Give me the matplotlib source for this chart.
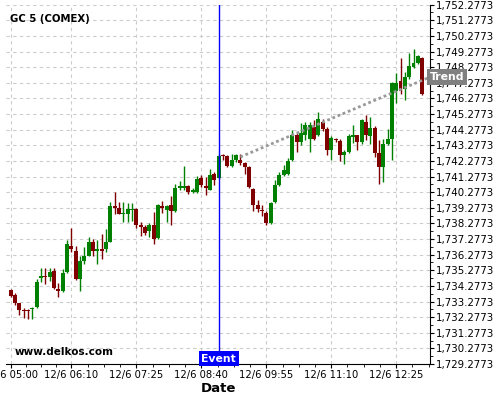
import numpy as np
import matplotlib
matplotlib.use('Agg')
import matplotlib.pyplot as plt
from matplotlib.ticker import FixedLocator, MultipleLocator, FuncFormatter

# ===== DATI (candele 5 minuti) =====
opens = [1734.04, 1733.72, 1733.16, 1732.76, 1732.76, 1732.80, 1732.91, 1734.79, 1734.94, 1734.83,
         1735.20, 1734.11, 1733.93, 1735.15, 1736.80, 1736.54, 1734.75, 1735.84, 1736.22, 1737.06,
         1736.54, 1736.65, 1736.65, 1737.08, 1739.37, 1739.24, 1738.85, 1738.90, 1739.15, 1739.22,
         1738.15, 1738.04, 1737.78, 1738.15, 1737.36, 1739.37, 1739.11, 1739.43, 1739.07, 1740.54,
         1740.54, 1740.65, 1740.28, 1740.28, 1741.18, 1740.65, 1740.44, 1741.46, 1741.18, 1742.64,
         1742.57, 1741.95, 1742.32, 1742.32, 1742.14, 1741.89, 1740.50, 1739.43, 1739.11, 1738.94,
         1738.32, 1739.64, 1740.71, 1741.35, 1741.42, 1742.32, 1743.92, 1743.49, 1743.92, 1743.71,
         1744.45, 1743.92, 1744.77, 1744.29, 1743.00, 1743.65, 1743.55, 1742.64, 1742.85, 1743.81,
         1743.92, 1743.49, 1744.77, 1743.86, 1744.41, 1742.79, 1741.89, 1743.34, 1743.71, 1746.76,
         1747.40, 1746.85, 1747.62, 1748.30, 1748.56, 1748.84]
highs = [1734.11, 1733.85, 1733.21, 1732.83, 1732.80, 1732.90, 1734.73, 1735.44, 1735.44, 1735.44,
         1735.44, 1734.45, 1735.33, 1737.19, 1737.97, 1736.80, 1736.22, 1736.76, 1737.40, 1737.29,
         1737.19, 1737.61, 1737.94, 1739.62, 1740.28, 1739.64, 1739.64, 1739.58, 1739.58, 1739.28,
         1738.36, 1738.15, 1738.28, 1739.00, 1739.50, 1739.71, 1739.45, 1740.01, 1740.82, 1740.99,
         1741.93, 1740.71, 1740.52, 1741.29, 1741.35, 1741.25, 1741.78, 1741.57, 1742.70, 1742.75,
         1742.64, 1742.75, 1742.75, 1742.70, 1742.21, 1741.95, 1740.56, 1739.75, 1739.43, 1739.05,
         1739.64, 1741.03, 1741.57, 1741.99, 1742.45, 1744.24, 1744.07, 1744.71, 1744.77, 1744.75,
         1744.88, 1745.40, 1744.95, 1744.43, 1743.86, 1743.75, 1743.65, 1743.00, 1743.99, 1744.56,
         1743.95, 1744.99, 1745.20, 1745.06, 1744.50, 1743.60, 1743.71, 1744.35, 1747.35, 1747.92,
         1748.84, 1747.96, 1749.20, 1749.42, 1749.05, 1748.90]
lows = [1733.59, 1733.08, 1732.44, 1732.23, 1732.18, 1732.18, 1732.85, 1734.51, 1734.41, 1734.62,
        1734.09, 1733.55, 1733.91, 1735.10, 1736.44, 1734.67, 1733.98, 1735.69, 1736.18, 1736.22,
        1735.69, 1736.01, 1736.44, 1737.06, 1738.90, 1738.85, 1738.36, 1738.36, 1738.42, 1738.00,
        1737.44, 1737.51, 1737.40, 1736.97, 1737.25, 1738.94, 1738.36, 1738.15, 1739.00, 1740.39,
        1740.39, 1740.14, 1740.20, 1740.20, 1740.60, 1740.07, 1740.40, 1740.71, 1741.10, 1742.32,
        1741.87, 1741.87, 1742.21, 1742.04, 1741.46, 1740.52, 1739.06, 1739.00, 1738.72, 1738.15,
        1738.25, 1739.60, 1740.65, 1741.30, 1741.35, 1742.25, 1742.85, 1743.28, 1743.60, 1742.85,
        1743.60, 1743.86, 1744.20, 1742.64, 1742.32, 1743.47, 1742.27, 1742.10, 1742.80, 1743.40,
        1743.00, 1743.39, 1743.60, 1743.39, 1742.53, 1740.82, 1740.92, 1743.28, 1742.32, 1745.99,
        1746.55, 1746.17, 1747.55, 1748.20, 1748.50, 1746.49]
closes = [1733.61, 1733.16, 1732.74, 1732.70, 1732.70, 1732.87, 1734.51, 1734.94, 1734.83, 1735.15,
          1734.15, 1733.93, 1735.13, 1736.93, 1736.63, 1734.73, 1735.84, 1736.22, 1737.06, 1736.54,
          1736.65, 1736.54, 1737.08, 1739.37, 1739.24, 1738.90, 1738.94, 1739.22, 1739.22, 1738.15,
          1738.04, 1737.65, 1738.15, 1737.25, 1739.43, 1739.28, 1739.37, 1739.07, 1740.54, 1740.65,
          1740.65, 1740.28, 1740.44, 1741.14, 1740.71, 1740.54, 1741.35, 1741.08, 1742.57, 1742.57,
          1741.95, 1742.32, 1742.64, 1742.14, 1741.89, 1740.60, 1739.43, 1739.22, 1739.05, 1738.32,
          1739.58, 1740.71, 1741.35, 1741.72, 1742.25, 1743.92, 1743.49, 1744.07, 1744.56, 1744.56,
          1743.71, 1744.93, 1744.29, 1743.00, 1743.75, 1743.60, 1742.64, 1742.85, 1743.86, 1743.92,
          1743.49, 1744.88, 1743.92, 1744.41, 1742.79, 1741.89, 1743.34, 1743.71, 1747.28, 1747.28,
          1746.76, 1747.62, 1748.35, 1748.56, 1748.99, 1746.55]

tick_idx = [0, 14, 29, 44, 59, 74, 89]
tick_labels = ['12/6 05:00', '12/6 06:10', '12/6 07:25', '12/6 08:40',
               '12/6 09:55', '12/6 11:10', '12/6 12:25']

event_idx = 48
trend_idx = [53, 97]
trend_vals = [1742.53, 1747.67]

Y_MIN, Y_MAX = 1729.2773, 1752.2773

# ===== GRAFICO =====
fig = plt.figure(figsize=(5, 4), dpi=100)
ax = fig.add_axes([0.012, 0.09, 0.848, 0.8983])

x = np.arange(len(opens))
o = np.array(opens); h = np.array(highs); l = np.array(lows); c = np.array(closes)
up = c >= o
colors = np.where(up, '#008000', '#800000')

ax.vlines(x, l, h, colors=colors, linewidth=1, zorder=3)
bottoms = np.minimum(o, c)
heights = np.maximum(np.abs(c - o), 0.06)
ax.bar(x, heights, bottom=bottoms, width=0.9, color=colors, edgecolor=colors,
       linewidth=0, zorder=4)

# linea evento
ax.axvline(event_idx, color='#0000ff', linewidth=1, zorder=5)
ax.text(event_idx, Y_MIN + 0.02, 'Event', color='white', fontsize=7.8, fontweight='bold',
        ha='center', va='bottom', zorder=6,
        bbox=dict(boxstyle='square,pad=0.25', facecolor='#0000ff', edgecolor='none'))

# trend
ax.plot(trend_idx, trend_vals, linestyle=(0, (1, 1)), color='#999999', linewidth=2, zorder=5)
ax.text(1.0, 1747.65, 'Trend', transform=ax.get_yaxis_transform(), color='white',
        fontsize=7.8, fontweight='bold', ha='left', va='center', zorder=10, clip_on=False,
        bbox=dict(boxstyle='square,pad=0.25', facecolor='#808080', edgecolor='none'))

ax.set_xlim(-1.1, 96.8)
ax.set_ylim(Y_MIN, Y_MAX)

# assi
for s in ['top', 'left']:
    ax.spines[s].set_visible(False)
ax.yaxis.tick_right()
ax.yaxis.set_major_locator(MultipleLocator(1.0, offset=0.2773))
ax.yaxis.set_minor_locator(MultipleLocator(0.5, offset=0.2773))
ax.yaxis.set_major_formatter(FuncFormatter(lambda v, p: f'{v:,.4f}'))

ax.xaxis.set_major_locator(FixedLocator(tick_idx))
minor = []
for a, b in zip(tick_idx[:-1], tick_idx[1:]):
    minor += list(np.linspace(a, b, 5)[1:-1])
step = (tick_idx[-1] - tick_idx[-2]) / 4
minor += [tick_idx[-1] + step, tick_idx[-1] + 2 * step]
ax.xaxis.set_minor_locator(FixedLocator(minor))
ax.set_xticklabels(tick_labels)

ax.tick_params(axis='x', which='major', labelsize=7.2, length=3, pad=1)
ax.tick_params(axis='y', which='major', labelsize=7.4, length=3, pad=1.5)
ax.tick_params(axis='both', which='minor', length=2)
ax.set_xlabel('Date', fontsize=9.5, fontweight='bold', labelpad=2)

ax.grid(True, which='major', color='#cccccc', linestyle=(0, (3, 3)), linewidth=0.8)
ax.set_axisbelow(True)

ax.text(0.01, 0.975, 'GC 5 (COMEX)', transform=ax.transAxes, fontsize=7.3,
        fontweight='bold', ha='left', va='top')
ax.text(0.02, 0.02, 'www.delkos.com', transform=ax.transAxes, fontsize=7.5,
        fontweight='bold', ha='left', va='bottom')

fig.savefig('out.png', dpi=100)
